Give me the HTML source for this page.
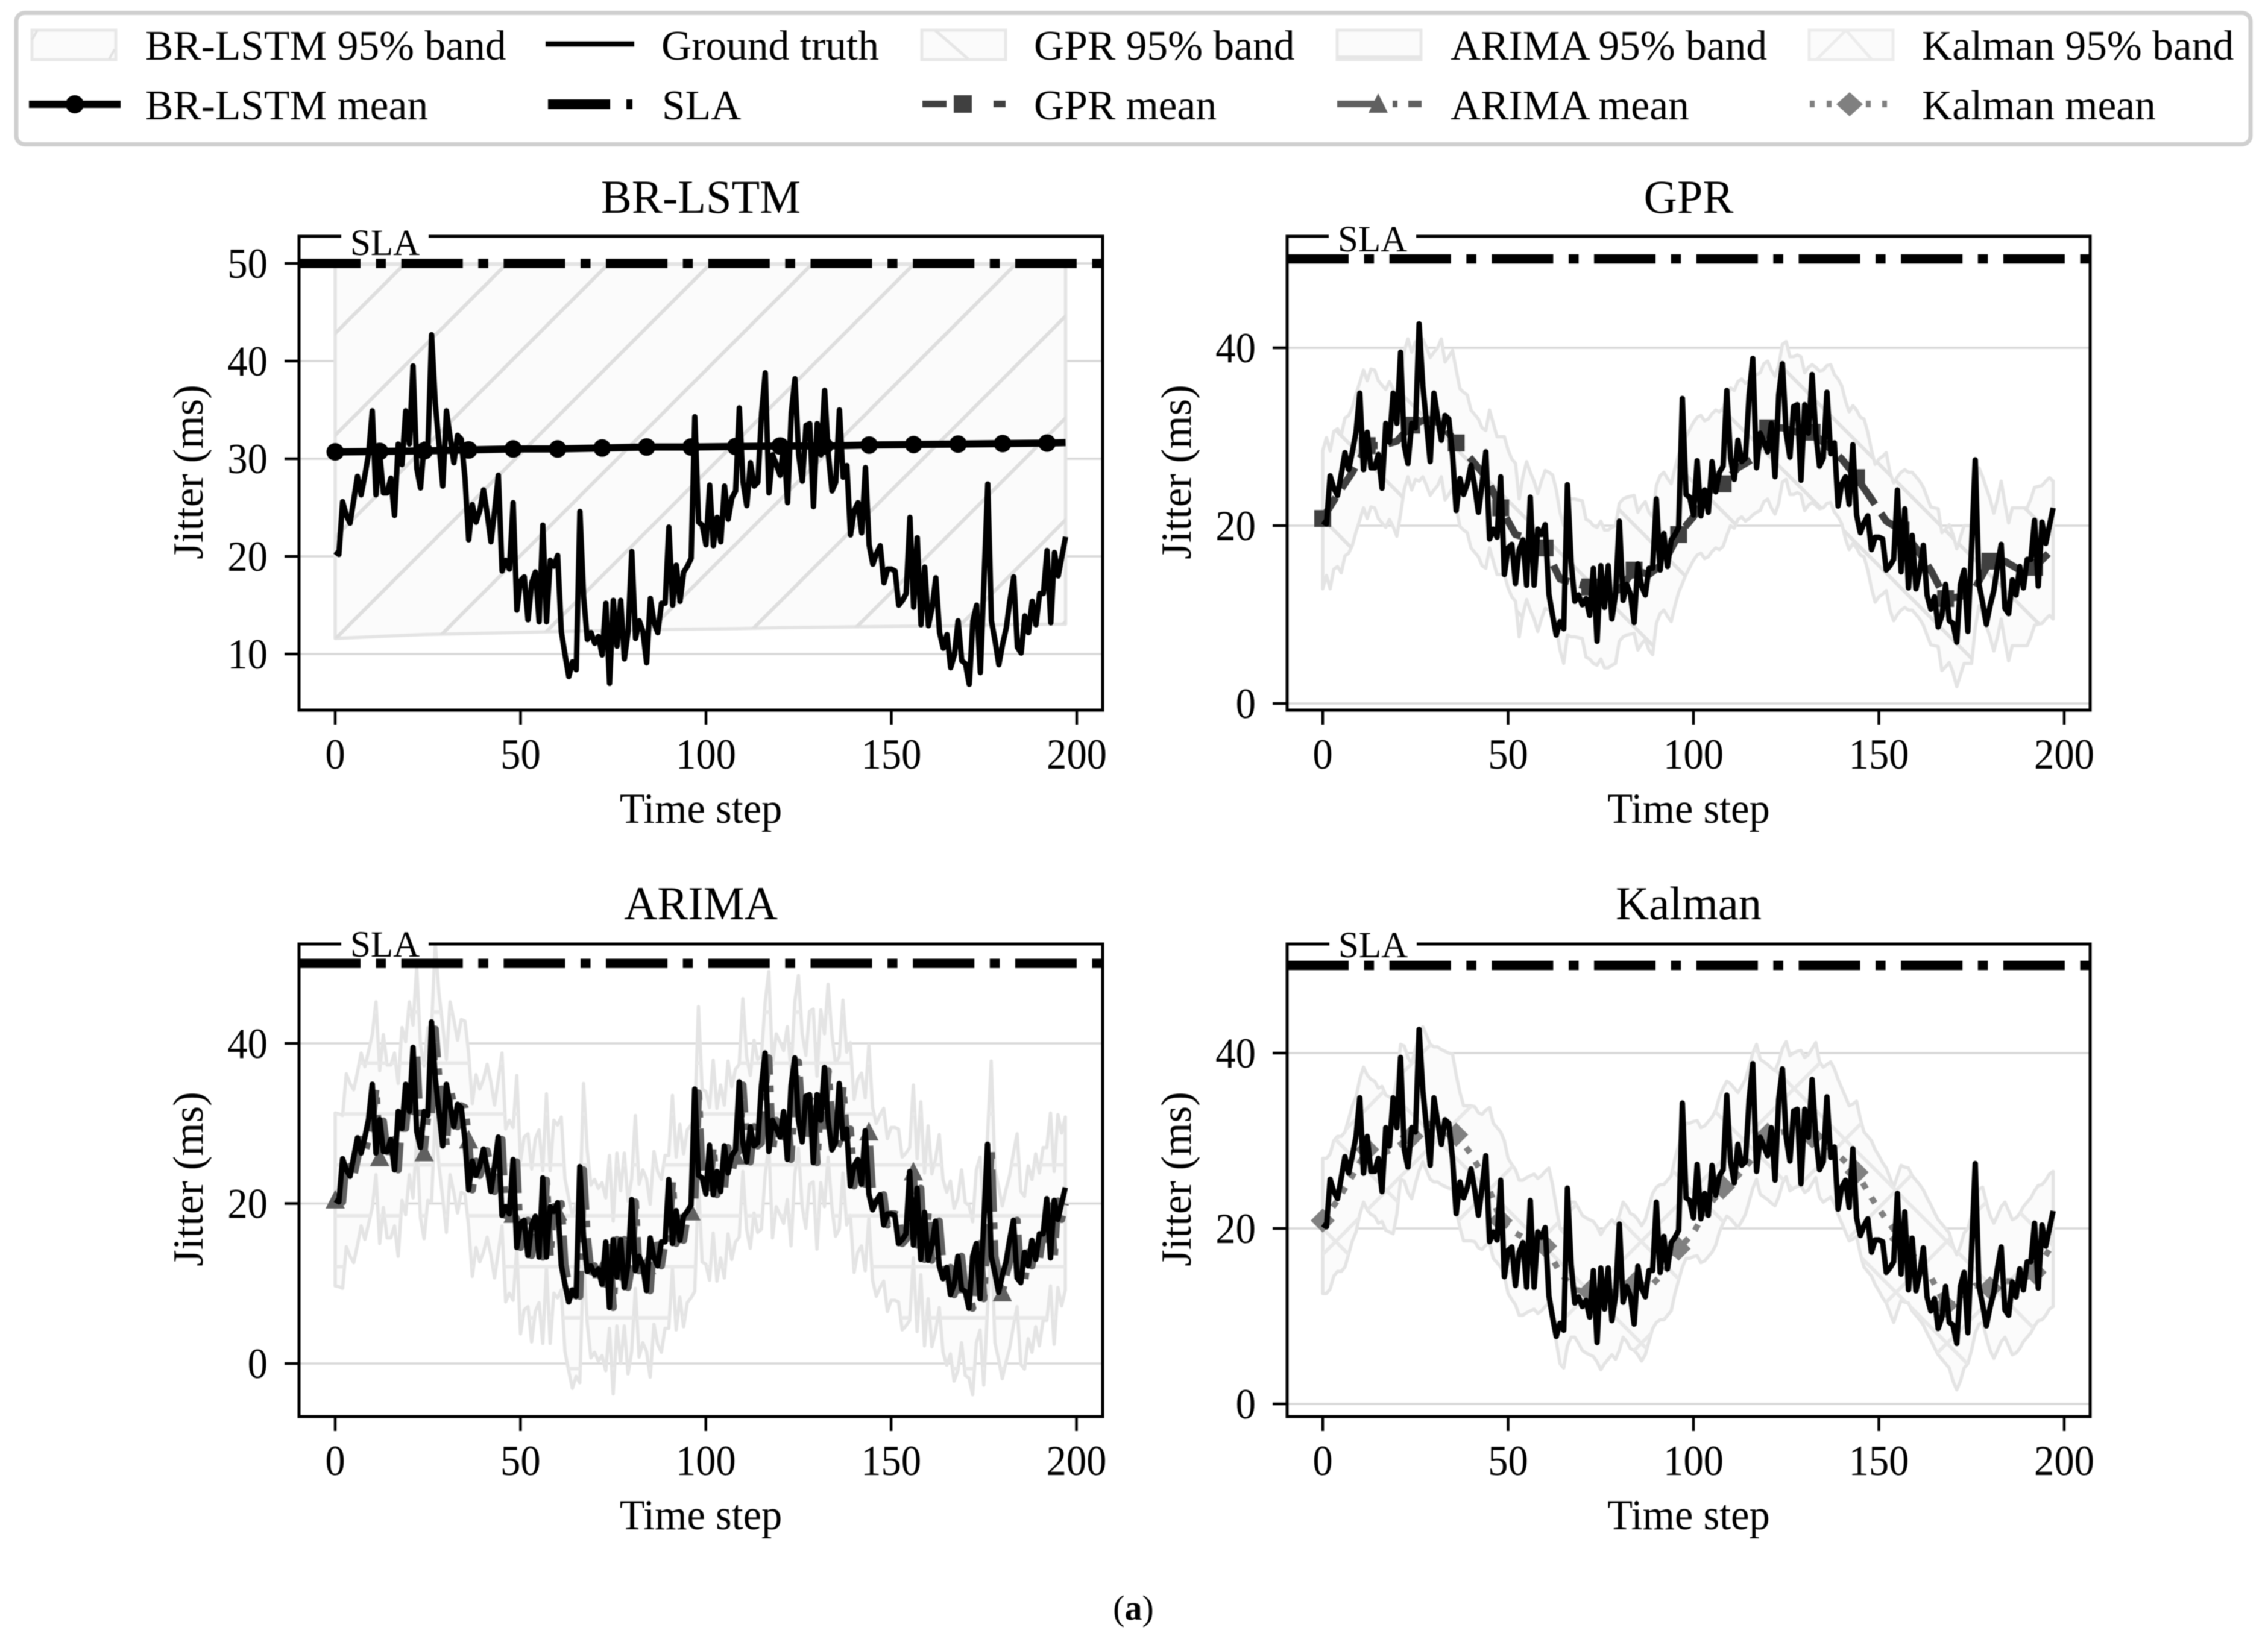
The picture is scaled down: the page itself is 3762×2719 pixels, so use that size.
<!DOCTYPE html>
<html lang="en">
<head>
<meta charset="utf-8">
<title>Jitter forecasts: BR-LSTM, GPR, ARIMA, Kalman</title>
<style>
html,body{margin:0;padding:0;background:#fff;}
svg{display:block;filter:blur(0.7px);}
text{font-family:"Liberation Serif",serif;fill:#000;}
</style>
</head>
<body>
<svg id="figure" xmlns="http://www.w3.org/2000/svg" width="3762" height="2719" viewBox="0 0 3762 2719">
  <defs>
    <pattern id="hatch-br" patternUnits="userSpaceOnUse" width="169" height="169">
      <path d="M100,-5 L-5,100 M269,-5 L-5,269" stroke="#dedede" stroke-width="6" fill="none"/>
    </pattern>
    <pattern id="hatch-gpr" patternUnits="userSpaceOnUse" width="169" height="169">
      <path d="M145,-5 L174,24 M-5,14 L155,174" stroke="#e2e2e2" stroke-width="6" fill="none"/>
    </pattern>
    <pattern id="hatch-arima" patternUnits="userSpaceOnUse" width="20" height="84.5">
      <rect x="0" y="70.5" width="20" height="6" fill="#e8e8e8"/>
    </pattern>
    <pattern id="hatch-kalman" patternUnits="userSpaceOnUse" width="169" height="169">
      <path d="M55,-5 L-5,55 M224,-5 L-5,224 M151,-5 L174,18 M-5,8 L161,174" stroke="#e8e8e8" stroke-width="6" fill="none"/>
    </pattern>
  </defs>

  <rect width="3762" height="2719" fill="#ffffff"/>

  <g id="legend">
    <rect x="27" y="21.5" width="3706" height="218" rx="14" ry="14" fill="#ffffff" stroke="#cfcfcf" stroke-width="7"/>

    <g>
      <rect x="53" y="50" width="139" height="49" fill="#fbfbfb" stroke="#e8e8e8" stroke-width="5"/>
      <path d="M62,50 L53,66 M190,82 L181,98" stroke="#e2e2e2" stroke-width="4" fill="none"/>
      <text x="241" y="99" font-size="69.5">BR-LSTM 95% band</text>
    </g>
    <g>
      <line x1="905" y1="73" x2="1052" y2="73" stroke="#000" stroke-width="8.5"/>
      <text x="1097" y="99" font-size="69.5">Ground truth</text>
    </g>
    <g>
      <rect x="1529" y="50" width="139" height="49" fill="#fbfbfb" stroke="#e8e8e8" stroke-width="5"/>
      <path d="M1551,50 L1606,98" stroke="#e6e6e6" stroke-width="5" fill="none"/>
      <text x="1715" y="99" font-size="69.5">GPR 95% band</text>
    </g>
    <g>
      <rect x="2218" y="50" width="139" height="49" fill="#fbfbfb" stroke="#e8e8e8" stroke-width="5"/>
      <line x1="2218" y1="95" x2="2357" y2="95" stroke="#e6e6e6" stroke-width="6"/>
      <text x="2406" y="99" font-size="69.5">ARIMA 95% band</text>
    </g>
    <g>
      <rect x="3001" y="50" width="139" height="49" fill="#fbfbfb" stroke="#ececec" stroke-width="5"/>
      <path d="M3062,50 L3014,98 M3062,50 L3104,98" stroke="#ececec" stroke-width="5" fill="none"/>
      <text x="3188" y="99" font-size="69.5">Kalman 95% band</text>
    </g>

    <g>
      <line x1="48" y1="173" x2="200" y2="173" stroke="#000" stroke-width="12"/>
      <circle cx="124" cy="173" r="15" fill="#000"/>
      <text x="241" y="198" font-size="69.5">BR-LSTM mean</text>
    </g>
    <g>
      <rect x="909" y="165" width="103" height="16" fill="#000"/>
      <rect x="1039" y="165" width="10" height="16" fill="#000"/>
      <text x="1098" y="198" font-size="69.5">SLA</text>
    </g>
    <g>
      <rect x="1530" y="167" width="40" height="11" fill="#404040"/>
      <rect x="1648" y="167" width="20" height="11" fill="#404040"/>
      <rect x="1582" y="158" width="30" height="29" fill="#404040"/>
      <text x="1715" y="198" font-size="69.5">GPR mean</text>
    </g>
    <g>
      <rect x="2218" y="167" width="70" height="11" fill="#606060"/>
      <rect x="2310" y="167" width="8" height="11" fill="#606060"/>
      <rect x="2336" y="167" width="22" height="11" fill="#606060"/>
      <polygon points="2286,155 2302,187 2270,187" fill="#606060"/>
      <text x="2406" y="198" font-size="69.5">ARIMA mean</text>
    </g>
    <g>
      <rect x="3002" y="167" width="8" height="11" fill="#808080"/>
      <rect x="3030" y="167" width="8" height="11" fill="#808080"/>
      <rect x="3095" y="167" width="8" height="11" fill="#808080"/>
      <rect x="3122" y="167" width="8" height="11" fill="#808080"/>
      <polygon points="3068,153 3090,173 3068,193 3046,173" fill="#808080"/>
      <text x="3188" y="198" font-size="69.5">Kalman mean</text>
    </g>
  </g>

  <g id="panels"></g>

  <text x="1880" y="2687" font-size="58" text-anchor="middle">(<tspan font-weight="bold">a</tspan>)</text>
</svg>

<script>
// ---- Chart data ----
const xTickLabels = [0, 50, 100, 150, 200];
const panelTitles = ['BR-LSTM', 'GPR', 'ARIMA', 'Kalman'];
const xAxisTitle = 'Time step';
const yAxisTitle = 'Jitter (ms)';
const slaLabel = 'SLA';
const slaValue = 50;

const yTicksBr = [10, 20, 30, 40, 50];
const yTicksOther = [0, 20, 40];

const groundTruth = [
20.5,20.2,25.6,24.2,23.4,25.8,28.2,26.3,28.3,30.5,
34.9,26.3,30.5,26.5,26.5,28,24.2,31.5,29.4,34.9,
31.5,39.5,29,27,31.5,31,42.7,35.7,31.5,27.2,
34.9,32.2,29.6,32.4,32,28,21.7,25.3,23.5,24.7,
26.8,24.4,21.5,24.7,28.3,18.5,19.6,18.7,25.5,14.5,
17.5,17.9,13.5,17.3,18.4,13.3,23.2,13.3,19.6,19,
20.1,12.3,9.9,7.7,9.2,8.4,24.6,15.9,11.5,12.2,
11.1,11.8,9.9,15.2,7,15.5,10.8,15.5,9.5,12.3,
20.5,11.6,13.4,12.3,9.1,15.7,13.2,12.2,15.2,15.2,
23,15,19.1,15.4,18.4,19,19.8,34.3,23.5,23.2,
21.2,27.3,21.1,24,21.5,27.2,23.8,26,26.7,35.2,
27.6,25.2,29.6,27.2,27.6,34.7,38.8,26.5,30.4,29.4,
28.3,31.5,25.5,34.7,38.2,30.4,27.7,33.4,33.6,25.1,
33.6,30.4,37,30.4,26.7,27.6,35,28.1,29.3,22.2,
24.7,25.5,22.4,29.1,21.2,19.2,20.3,21.1,17.3,18.7,
18.7,18.5,15,15.5,16.2,24,14.8,21.9,13,18.9,
12.9,14.8,17.8,12.2,10.6,12,8.6,9.9,13.4,9.3,
9,6.9,13.4,15,8.1,17.7,27.4,13.4,11.3,8.9,
11,12.7,15.5,17.9,10.7,10.1,13.9,12.2,15.4,13,
16.2,16.2,20.6,13.2,20.4,18,20,22];

// BR-LSTM: nearly flat mean and very wide band, sampled at its marker steps.
const brSteps = [0,12,24,36,48,60,72,84,96,108,120,132,144,156,168,180,192,197];
const brMean  = [30.7,30.75,30.8,30.9,31,31,31.1,31.2,31.2,31.25,31.3,31.3,31.4,31.45,31.5,31.55,31.6,31.65];
const brUpper = [49.9,49.9,49.9,49.9,49.9,49.9,49.9,49.9,49.9,49.9,49.9,49.9,49.9,49.9,49.9,49.9,49.9,49.9];
const brLower = [11.6,11.8,12,12.1,12.2,12.3,12.4,12.5,12.55,12.6,12.7,12.75,12.8,12.85,12.9,13,13.05,13.05];

// GPR and Kalman means, sampled every few steps.
const meanSteps = [0,4,8,12,16,20,24,28,32,36,40,44,48,52,56,60,64,68,72,76,80,84,88,92,96,100,104,108,112,116,120,124,128,132,136,140,144,148,152,156,160,164,168,172,176,180,184,188,192,196,197];
const gprMean = [20.8,23.5,26,29,29,29.5,31.3,32,31.5,29.3,27.5,25.5,22,19,18.5,17.5,14,13.5,13.1,12.5,12.8,15,14.5,15.8,19,21,23.8,24.7,26.5,27.5,31,31,30.5,30.5,29,27.5,25.4,23,20.5,19.5,17.5,15,11.8,12,13,16,16,15,15.3,17,17.4];
const kalmanMean = [20.9,23.2,26,29,28.5,29.3,30.5,32,31.8,30.7,28.5,25.5,20.9,19.5,18.5,18,15,13,12.8,12.5,13,13.7,13.2,15,17.7,19.5,22.5,24.7,26,28,30.7,31,31,30.5,29.5,28,26.4,23.5,21,18.8,16.5,14.5,11.2,11.5,13.5,13.2,14,14,15,17.6,18];

// GPR band top edge at every step; the bottom edge runs a fixed height below it.
const gprUpper = [
28.4,29.9,28.4,30.6,30.9,30.2,32.1,32.4,33.3,34.8,
36.1,37.5,36.3,37.6,37.5,36.3,35.8,35.3,36.2,35.4,
34.3,36.8,39.6,41,39.5,40.7,40.5,41,40,38.9,
39.5,40,41,38.4,39,39.7,37.5,35.4,35,34.7,
33,32.5,32,31,30.7,33,31.5,30,30,30,
28.5,27.5,27,23,25.5,27.2,26,25,23.6,25,
26.2,26,25.7,24,21.5,20,23.2,23,23,22.9,
22.8,20.7,20.5,20,19.8,20.5,19.5,19.5,19.8,20,
22.5,23,23.2,23.3,23.4,21.5,22.2,22.7,21.5,21,
24.5,25.6,26,25.3,24.7,26.5,28,29,30,30.8,
31.6,32.2,32.4,31.8,32,32.6,33,32.8,33.2,34.4,
35.5,35.2,36.2,36.5,36,36.3,36.7,37,37.2,38.2,
38.5,37.5,36.8,38,40.4,40.7,39,39,39.2,39,
37.2,37.8,38.1,37.8,37.4,37.5,38,38.1,37,36.5,
35.7,34,32.8,33.5,33,32.2,32,30.5,28.5,26.9,
27.5,27.8,28.2,26,24.8,25.5,26,26.3,26,26,
25.5,25,24.3,23.2,22.1,22,21.9,19.2,19.6,20.1,
19,17.4,18.7,20,20,20,24,26.5,25.5,24.2,
23,21.4,23,25,22.5,20.3,22,22,22,22,
22,23,24.3,24.4,24.5,25,25.4,25];
const gprBandHeight = 15.5;

// Kalman band top edge at every step.
const kalmanUpper = [
28,28,28.5,30,30.5,30.5,31,32.5,34,35,
37,38.4,37.5,37,36.8,36,36.2,35.2,35,34.8,
37,41,40.8,39.5,38.8,40.5,42,43,42,41,
40.7,40.7,40.4,40.2,40,39.9,37.5,35.5,34,34,
34,33.9,33.2,33,33.5,33.8,32,31.5,31,30,
28,27.3,26.7,25.5,25.5,25.8,26,26.2,25.7,26,
26.5,26.9,25,22.5,20,19.5,22,23,23,22.3,
21.5,21.2,21,20.8,20.2,19.3,20,20.5,21,20.5,
21.5,23,22.5,21.7,21.5,21,20.3,21,22.5,24,
24.7,25,25,25.5,26,28,29.5,31,32,32,
32.2,32.3,31.5,31.7,32.2,32.7,33.5,35,36,36.8,
36.5,36,35.5,36.2,37,38.5,40,41,39.3,39,
38.7,38.3,38,39,40.5,41.3,39.7,40,40.2,40.3,
39.5,39.8,40.5,41.2,39,38.4,38.7,39,38.2,37,
36,35,34,34.2,34.5,32.5,31,30.5,30,29,
28.3,27.5,26.9,25.8,24.7,26,27.2,27,26.9,26,
25.5,25,24.4,23.5,22.7,21.8,21,20.5,20,19.5,
18,17,18,19.5,20,21.5,23.5,24.5,24.7,23,
21.5,20.6,21.5,22.5,23,22,21,21.2,21.7,22.5,
23,23.5,24.3,24.9,25,25.5,26.2,26.5];
const kalmanBandHeight = 15.4;

// ARIMA one-step-ahead mean at every step; its band is centred on this mean.
const arimaMean = [
20.5,20.4,20.2,25.4,24.2,23.4,25.6,28,26.3,28.2,
30.3,34.4,25.8,30.3,26.5,26.5,28,24.2,31.2,29.4,
34.4,31.5,38.8,29,26.4,31.2,31,41.8,35.5,31.5,
27.2,34.4,32.2,29.6,32.2,32,28,21.7,25.3,23.5,
24.7,26.6,24.4,21.5,24.7,28,18.5,19.6,18.7,25.2,
14.5,17.5,17.9,13.5,17.3,18.4,13.3,22.9,13.3,19.6,
19,20,12.3,9.9,7.7,9.2,8.4,24.2,15.9,11.5,
12.2,11.1,11.8,9.9,15.2,7,15.5,10.8,15.5,9.5,
12.3,20.2,11.6,13.4,12.3,9.1,15.7,13.2,12.2,15.2,
15.2,22.7,15,19.1,15.4,18.4,19,19.8,33.8,23.5,
23.2,21.2,27.1,21.1,24,21.5,27,23.8,26,26.6,
34.8,27.6,25.2,29.6,27.2,27.6,34.3,38.2,26.5,30.4,
29.4,28.3,31.3,25.5,34.4,37.7,30.4,27.7,33.2,33.5,
25.1,33.4,30.4,36.6,30.4,26.7,27.6,34.6,28.1,29.3,
22.2,24.7,25.5,22.4,29,21.2,19.2,20.3,21.1,17.3,
18.7,18.7,18.5,15,15.5,16.2,24,14.8,21.9,13,
18.9,12.9,14.8,17.8,12.2,10.6,12,8.6,9.9,13.4,
9.3,9,6.9,13.4,15,8.1,17.7,27,13.4,11.3,
8.9,11,12.7,15.5,17.9,10.7,10.1,13.9,12.2,15.4,
13,16.2,16.2,20.5,13.2,20.3,18,20];
const arimaHalfWidth = 10.8;

// ---- Rendering ----
const SVG_NS = 'http://www.w3.org/2000/svg';
const panelsRoot = document.getElementById('panels');

function make(parent, tag, attrs) {
  const node = document.createElementNS(SVG_NS, tag);
  for (const key in attrs) node.setAttribute(key, attrs[key]);
  parent.appendChild(node);
  return node;
}

function makeText(parent, str, x, y, size, anchor, scaleX, rotate) {
  const node = make(parent, 'text', {
    'font-size': size,
    'text-anchor': anchor,
    transform: 'translate(' + x + ' ' + y + ')' + (rotate ? ' rotate(' + rotate + ')' : '') + ' scale(' + scaleX + ' 1)'
  });
  node.textContent = str;
  return node;
}

function linearScale(domainA, domainB, pixelA, pixelB) {
  return function (v) {
    return pixelA + (v - domainA) * (pixelB - pixelA) / (domainB - domainA);
  };
}

function pointsOf(steps, values, xFn, yFn) {
  return steps.map(function (s, i) {
    return xFn(s).toFixed(1) + ',' + yFn(values[i]).toFixed(1);
  }).join(' ');
}

const everyStep = groundTruth.map(function (_, i) { return i; });

const layouts = [
  { left: 496,  right: 1829, top: 392,  bottom: 1178, x0: 556,  x200: 1786,   yA: 10, pxA: 1085, yB: 50, pxB: 437,  yTicks: yTicksBr,    slaX: 581,  slaY: 423,  titleY: 353 },
  { left: 2135, right: 3467, top: 392,  bottom: 1178, x0: 2194, x200: 3424,   yA: 0,  pxA: 1167, yB: 40, pxB: 577,  yTicks: yTicksOther, slaX: 2219, slaY: 417,  titleY: 353 },
  { left: 496,  right: 1829, top: 1566, bottom: 2350, x0: 556,  x200: 1785.5, yA: 0,  pxA: 2262, yB: 40, pxB: 1731, yTicks: yTicksOther, slaX: 581,  slaY: 1587, titleY: 1525 },
  { left: 2135, right: 3467, top: 1566, bottom: 2350, x0: 2194, x200: 3424,   yA: 0,  pxA: 2329, yB: 40, pxB: 1747, yTicks: yTicksOther, slaX: 2220, slaY: 1588, titleY: 1525 }
];

const bandUpperSeries = [
  brUpper,
  gprUpper,
  arimaMean.map(function (m) { return m + arimaHalfWidth; }),
  kalmanUpper
];
const bandLowerSeries = [
  brLower,
  gprUpper.map(function (u) { return u - gprBandHeight; }),
  arimaMean.map(function (m) { return m - arimaHalfWidth; }),
  kalmanUpper.map(function (u) { return u - kalmanBandHeight; })
];
const bandSteps = [brSteps, everyStep, everyStep, everyStep];
const meanSeries = [brMean, gprMean, arimaMean, kalmanMean];
const meanStepSeries = [brSteps, meanSteps, everyStep, meanSteps];
const hatchIds = ['hatch-br', 'hatch-gpr', 'hatch-arima', 'hatch-kalman'];
const meanColors = ['#000000', '#404040', '#606060', '#808080'];
const meanWidths = [12, 12, 12, 10];
const meanDashes = ['none', '41 18', '70 18 11 18', '11 17'];

function drawMarker(parent, kind, cx, cy, color) {
  if (kind === 0) return make(parent, 'circle', { cx: cx, cy: cy, r: 14.5, fill: color });
  if (kind === 1) return make(parent, 'rect', { x: cx - 14, y: cy - 14, width: 28, height: 28, fill: color });
  if (kind === 2) return make(parent, 'polygon', { points: cx + ',' + (cy - 16) + ' ' + (cx + 16) + ',' + (cy + 15) + ' ' + (cx - 16) + ',' + (cy + 15), fill: color });
  return make(parent, 'polygon', { points: cx + ',' + (cy - 20) + ' ' + (cx + 20) + ',' + cy + ' ' + cx + ',' + (cy + 20) + ' ' + (cx - 20) + ',' + cy, fill: color });
}

layouts.forEach(function (p, idx) {
  const xFn = linearScale(0, 200, p.x0, p.x200);
  const yFn = linearScale(p.yA, p.yB, p.pxA, p.pxB);
  const cx = (p.left + p.right) / 2;
  const cy = (p.top + p.bottom) / 2;

  const panel = make(panelsRoot, 'g', {});
  
  

  const clip = make(panel, 'clipPath', { id: 'clip-' + idx });
  make(clip, 'rect', { x: p.left, y: p.top, width: p.right - p.left, height: p.bottom - p.top });

  // gridlines
  p.yTicks.forEach(function (t) {
    const grid = make(panel, 'line', { x1: p.left, x2: p.right, y1: yFn(t), y2: yFn(t), stroke: '#d8d8d8', 'stroke-width': 3.5 });
    
    
  });

  const plot = make(panel, 'g', { 'clip-path': 'url(#clip-' + idx + ')' });
  
  

  // 95% band
  const upperPts = pointsOf(bandSteps[idx], bandUpperSeries[idx], xFn, yFn);
  const lowerPts = pointsOf(bandSteps[idx].slice().reverse(), bandLowerSeries[idx].slice().reverse(), xFn, yFn);
  const bandPts = upperPts + ' ' + lowerPts;
  const band = make(plot, 'polygon', { points: bandPts, fill: '#fbfbfb', stroke: '#e4e4e4', 'stroke-width': 5.5, 'stroke-linejoin': 'round' });
  
  
  const hatch = make(plot, 'polygon', { points: bandPts, fill: 'url(#' + hatchIds[idx] + ')' });
  
  

  // mean line and markers
  const meanLine = make(plot, 'polyline', {
    points: pointsOf(meanStepSeries[idx], meanSeries[idx], xFn, yFn),
    fill: 'none', stroke: meanColors[idx], 'stroke-width': meanWidths[idx],
    'stroke-dasharray': meanDashes[idx], 'stroke-linejoin': 'round'
  });
  
  
  meanStepSeries[idx].forEach(function (s, i) {
    if (s % 12 !== 0) return;
    const mk = drawMarker(plot, idx, xFn(s), yFn(meanSeries[idx][i]), meanColors[idx]);
    
    
  });

  // ground truth
  const truthLine = make(plot, 'polyline', {
    points: pointsOf(everyStep, groundTruth, xFn, yFn),
    fill: 'none', stroke: '#000', 'stroke-width': 9, 'stroke-linejoin': 'round'
  });
  
  

  // axes frame
  const frame = make(panel, 'rect', { x: p.left, y: p.top, width: p.right - p.left, height: p.bottom - p.top, fill: 'none', stroke: '#000', 'stroke-width': 5 });
  
  

  // SLA annotation box, line and label
  const slaBox = make(panel, 'rect', { x: p.slaX - 15, y: p.top - 15, width: 145, height: p.slaY + 2 - (p.top - 15), fill: '#fff' });
  
  

  const slaLine = make(panel, 'line', {
    x1: p.left, x2: p.right, y1: yFn(slaValue), y2: yFn(slaValue),
    stroke: '#000', 'stroke-width': 15.5, 'stroke-dasharray': '102 25.6 16.5 25.6'
  });
  
  

  const slaText = makeText(panel, slaLabel, p.slaX, p.slaY, 61, 'start', 1, 0);
  
  

  // y ticks
  p.yTicks.forEach(function (t) {
    const y = yFn(t);
    const tick = make(panel, 'line', { x1: p.left - 24, x2: p.left, y1: y, y2: y, stroke: '#000', 'stroke-width': 4.5 });
    
    
    const label = makeText(panel, String(t), p.left - 52, y + 24, 71, 'end', 0.94, 0);
    
    
  });

  // x ticks
  xTickLabels.forEach(function (t) {
    const x = xFn(t);
    const tick = make(panel, 'line', { x1: x, x2: x, y1: p.bottom, y2: p.bottom + 24, stroke: '#000', 'stroke-width': 4.5 });
    
    
    const label = makeText(panel, String(t), x, p.bottom + 97, 71, 'middle', 0.94, 0);
    
    
  });

  // titles
  const title = makeText(panel, panelTitles[idx], cx, p.titleY, 78, 'middle', 0.98, 0);
  
  

  const xTitle = makeText(panel, xAxisTitle, cx, p.bottom + 187, 71, 'middle', 0.965, 0);
  
  

  const yTitle = makeText(panel, yAxisTitle, p.left - 160, cy - 2, 71, 'middle', 1, -90);
  
  
});
</script>
</body>
</html>
